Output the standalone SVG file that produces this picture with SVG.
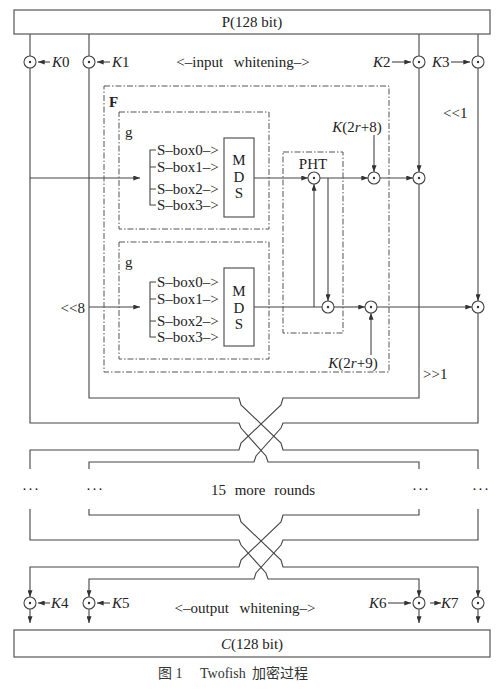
<svg xmlns="http://www.w3.org/2000/svg" width="499" height="691" viewBox="0 0 499 691">
<defs>
<marker id="ah" viewBox="0 0 8 6" refX="8" refY="3" markerWidth="7" markerHeight="5" orient="auto" markerUnits="userSpaceOnUse"><path d="M0,0 L8,3 L0,6 z" fill="#333"/></marker>
<style>
.t{font-family:"Liberation Serif","Times New Roman",serif;font-size:15px;fill:#222}
.i{font-style:italic}
.c{text-anchor:middle}
.ln{fill:none;stroke:#444;stroke-width:1.1}
.a{marker-end:url(#ah)}
.dd{fill:none;stroke:#555;stroke-width:1;stroke-dasharray:6 2 1.5 2}
.box{fill:#fff;stroke:#555;stroke-width:1.2}
.x{fill:#fff;stroke:#444;stroke-width:1.1}
</style>
</defs>
<rect width="499" height="691" fill="#fff"/>

<g id="connectors">
<path class="ln" d="M30,34 V56 M89,34 V56 M419,34 V56 M478,34 V56"/>
<path class="ln a" d="M50,62 H38"/>
<path class="ln a" d="M110,62 H97"/>
<path class="ln a" d="M392,62 H411"/>
<path class="ln a" d="M451,62 H470"/>
<path class="ln" d="M30,68 V423 H239 L241,428 L266,456 L268,462 H419 V469"/>
<path class="ln" d="M89,68 V398 H239 L241,405 L281,443 L283,450 H478 V469"/>
<path class="ln" d="M419,184 V398 H283 L281,405 L241,443 L239,450 H30 V469"/>
<path class="ln" d="M478,313 V423 H283 L281,428 L256,456 L254,462 H89 V469"/>
<path class="ln a" d="M30,178 H140"/>
<path class="ln a" d="M89,307 H140"/>
<path class="ln" d="M156,150 H150 V205 H156 M150,167 H156 M150,189 H156"/>
<path class="ln" d="M156,282 H150 V337 H156 M150,299 H156 M150,321 H156"/>
<path class="ln a" d="M254,178 H308"/>
<path class="ln" d="M254,307 H322"/>
<path class="ln a" d="M314,307 V184"/>
<path class="ln a" d="M328,178 V301"/>
<path class="ln a" d="M320,178 H368"/>
<path class="ln a" d="M334,307 H365"/>
<path class="ln a" d="M374,135 V172"/>
<path class="ln a" d="M371,355 V313"/>
<path class="ln a" d="M380,178 H413"/>
<path class="ln a" d="M377,307 H472"/>
<path class="ln a" d="M419,68 V172"/>
<path class="ln a" d="M478,68 V301"/>
<path class="ln a" d="M89,509 V515 H239 L241,522 L281,560 L283,567 H478 V597"/>
<path class="ln a" d="M419,509 V515 H283 L281,522 L241,560 L239,567 H30 V597"/>
<path class="ln a" d="M30,509 V540 H239 L241,545 L266,573 L268,579 H419 V597"/>
<path class="ln a" d="M478,509 V540 H283 L281,545 L256,573 L254,579 H89 V597"/>
<path class="ln a" d="M30,609 V623"/>
<path class="ln a" d="M89,609 V623"/>
<path class="ln a" d="M419,609 V623"/>
<path class="ln a" d="M478,609 V623"/>
<path class="ln a" d="M50,603 H38"/>
<path class="ln a" d="M110,603 H97"/>
<path class="ln a" d="M388,603 H411"/>
<path class="ln a" d="M430,603 H441"/>
</g>

<g id="plaintext"><rect class="box" x="14" y="10" width="476" height="24"/><text class="t c" x="252" y="27">P(128 bit)</text></g>

<g id="xor-k0"><circle class="x" cx="30" cy="62" r="6"/><circle cx="30" cy="62" r="1.2" fill="#333"/><text class="t i" x="52" y="67">K<tspan font-style="normal">0</tspan></text></g>
<g id="xor-k1"><circle class="x" cx="89" cy="62" r="6"/><circle cx="89" cy="62" r="1.2" fill="#333"/><text class="t i" x="112" y="67">K<tspan font-style="normal">1</tspan></text></g>
<g id="xor-k2"><circle class="x" cx="419" cy="62" r="6"/><circle cx="419" cy="62" r="1.2" fill="#333"/><text class="t i" x="373" y="67">K<tspan font-style="normal">2</tspan></text></g>
<g id="xor-k3"><circle class="x" cx="478" cy="62" r="6"/><circle cx="478" cy="62" r="1.2" fill="#333"/><text class="t i" x="432" y="67">K<tspan font-style="normal">3</tspan></text></g>
<g id="input-whitening"><text class="t c" x="243" y="67" word-spacing="7">&lt;–input whitening–&gt;</text></g>

<g id="F"><rect class="dd" x="104" y="86" width="285" height="286"/><text class="t" x="109" y="107" font-weight="bold" font-size="14">F</text></g>

<g id="g-upper"><rect class="dd" x="119" y="112" width="150" height="117"/><text class="t" x="125" y="137">g</text>
<text class="t" x="157" y="155">S–box0–&gt;</text><text class="t" x="157" y="172">S–box1–&gt;</text><text class="t" x="157" y="194">S–box2–&gt;</text><text class="t" x="157" y="210">S–box3–&gt;</text></g>
<g id="mds-upper"><rect class="box" x="224" y="138" width="30" height="79"/><text class="t c" x="239" y="165">M</text><text class="t c" x="239" y="182">D</text><text class="t c" x="239" y="198">S</text></g>

<g id="g-lower"><rect class="dd" x="119" y="242" width="150" height="117"/><text class="t" x="125" y="267">g</text>
<text class="t" x="157" y="287">S–box0–&gt;</text><text class="t" x="157" y="304">S–box1–&gt;</text><text class="t" x="157" y="326">S–box2–&gt;</text><text class="t" x="157" y="342">S–box3–&gt;</text></g>
<g id="mds-lower"><rect class="box" x="224" y="268" width="30" height="78"/><text class="t c" x="239" y="296">M</text><text class="t c" x="239" y="313">D</text><text class="t c" x="239" y="329">S</text></g>

<g id="rot8"><text class="t" x="85" y="313" text-anchor="end">&lt;&lt;8</text></g>

<g id="PHT"><rect class="dd" x="283" y="152" width="60" height="181"/><text class="t c" x="313" y="169">PHT</text>
<circle class="x" cx="314" cy="178" r="6"/><circle cx="314" cy="178" r="1.2" fill="#333"/>
<circle class="x" cx="328" cy="307" r="6"/><circle cx="328" cy="307" r="1.2" fill="#333"/></g>

<g id="k2r8"><circle class="x" cx="374" cy="178" r="6"/><circle cx="374" cy="178" r="1.2" fill="#333"/><text class="t c" x="357" y="132"><tspan class="i">K</tspan>(2<tspan class="i">r</tspan>+8)</text></g>
<g id="k2r9"><circle class="x" cx="371" cy="307" r="6"/><circle cx="371" cy="307" r="1.2" fill="#333"/><text class="t c" x="353" y="368"><tspan class="i">K</tspan>(2<tspan class="i">r</tspan>+9)</text></g>

<g id="xor-r2"><circle class="x" cx="419" cy="178" r="6"/><circle cx="419" cy="178" r="1.2" fill="#333"/></g>
<g id="xor-r3"><circle class="x" cx="478" cy="307" r="6"/><circle cx="478" cy="307" r="1.2" fill="#333"/></g>
<g id="rot1"><text class="t" x="443" y="118">&lt;&lt;1</text><text class="t" x="423" y="379">&gt;&gt;1</text></g>

<g id="more-rounds"><text class="t" x="22" y="494" letter-spacing="1">···</text><text class="t" x="86" y="494" letter-spacing="1">···</text>
<text class="t c" x="263" y="495" word-spacing="5">15 more rounds</text>
<text class="t" x="412" y="494" letter-spacing="1">···</text><text class="t" x="472" y="494" letter-spacing="1">···</text></g>

<g id="xor-k4"><circle class="x" cx="30" cy="603" r="6"/><circle cx="30" cy="603" r="1.2" fill="#333"/><text class="t i" x="51" y="608">K<tspan font-style="normal">4</tspan></text></g>
<g id="xor-k5"><circle class="x" cx="89" cy="603" r="6"/><circle cx="89" cy="603" r="1.2" fill="#333"/><text class="t i" x="112" y="608">K<tspan font-style="normal">5</tspan></text></g>
<g id="xor-k6"><circle class="x" cx="419" cy="603" r="6"/><circle cx="419" cy="603" r="1.2" fill="#333"/><text class="t i" x="369" y="608">K<tspan font-style="normal">6</tspan></text></g>
<g id="xor-k7"><circle class="x" cx="478" cy="603" r="6"/><circle cx="478" cy="603" r="1.2" fill="#333"/><text class="t i" x="441" y="608">K<tspan font-style="normal">7</tspan></text></g>
<g id="output-whitening"><text class="t c" x="245" y="613" word-spacing="7">&lt;–output whitening–&gt;</text></g>

<g id="ciphertext"><rect class="box" x="14" y="630" width="476" height="27"/><text class="t c" x="252" y="649"><tspan class="i">C</tspan>(128 bit)</text></g>

<g id="caption"><text x="158" y="678" font-size="14" fill="#333" font-family="'Liberation Serif','Noto Sans CJK SC',serif">图 1<tspan x="200">Twofish</tspan><tspan x="252">加密过程</tspan></text></g>
</svg>
